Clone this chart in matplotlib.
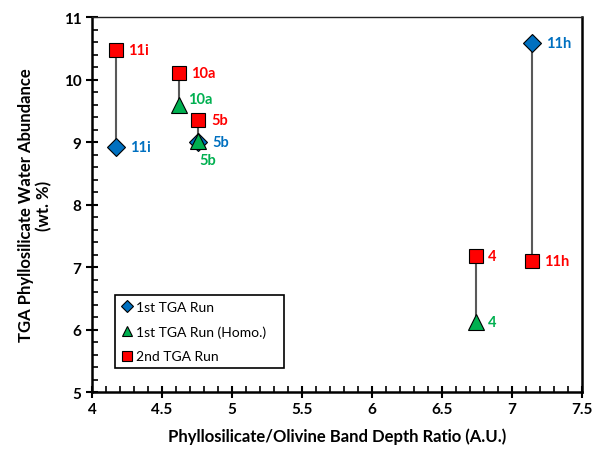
import matplotlib
matplotlib.use("Agg")
import matplotlib.pyplot as plt
from matplotlib.ticker import MultipleLocator

plt.rcParams['font.family'] = ['Lato', 'DejaVu Sans']
plt.rcParams['font.weight'] = 'bold'

# band depth ratio (x) and water abundance (y) per sample
names = ['11i', '10a', '5b', '4', '11h']
ratio = [4.17, 4.62, 4.76, 6.74, 7.14]
run1 = [8.92, None, 9.00, None, 10.58]
run1_homo = [None, 9.60, 9.02, 6.12, None]
run2 = [10.47, 10.10, 9.36, 7.17, 7.09]

blue = '#0070C0'
green = '#00B050'
red = '#FF0000'

fig, ax = plt.subplots(figsize=(5.97, 4.52), dpi=100)
fig.subplots_adjust(left=0.154, right=0.975, top=0.960, bottom=0.1305)

# vertical connectors between runs of the same sample
for i in range(len(names)):
    ys = [v[i] for v in (run1, run1_homo, run2) if v[i] is not None]
    ax.plot([ratio[i]] * len(ys), ys, color='#595959', lw=1.5, zorder=1)

def pts(vals):
    xs = [ratio[i] for i in range(len(vals)) if vals[i] is not None]
    ys = [v for v in vals if v is not None]
    return xs, ys

x1, y1 = pts(run1)
ax.plot(x1, y1, 'D', color=blue, mec='black', mew=0.8, ms=9, ls='none',
        label='1st TGA Run', zorder=3)
xh, yh = pts(run1_homo)
ax.plot(xh, yh, '^', color=green, mec='black', mew=0.8, ms=11, ls='none',
        label='1st TGA Run (Homo.)', zorder=4)
x2, y2 = pts(run2)
ax.plot(x2, y2, 's', color=red, mec='black', mew=0.8, ms=10, ls='none',
        label='2nd TGA Run', zorder=3)

lab = dict(fontsize=10.5, fontweight='bold', textcoords='offset points', va='center')
for i, n in enumerate(names):
    if run1[i] is not None:
        ax.annotate(n, (ratio[i], run1[i]), xytext=(10, 0), color=blue, **lab)
    if run2[i] is not None:
        ax.annotate(n, (ratio[i], run2[i]), xytext=(9, 0), color=red, **lab)
    if run1_homo[i] is not None:
        if n == '5b':
            ax.annotate(n, (ratio[i], run1_homo[i]), xytext=(1, -14), color=green, **lab)
        elif n == '10a':
            ax.annotate(n, (ratio[i], run1_homo[i]), xytext=(7, 4), color=green, **lab)
        else:
            ax.annotate(n, (ratio[i], run1_homo[i]), xytext=(9, 0), color=green, **lab)

ax.set_xlim(4, 7.5)
ax.set_ylim(5, 11)
ax.set_xticks([4, 4.5, 5, 5.5, 6, 6.5, 7, 7.5])
ax.set_xticklabels(['4', '4.5', '5', '5.5', '6', '6.5', '7', '7.5'])
ax.xaxis.set_minor_locator(MultipleLocator(0.1))
ax.yaxis.set_major_locator(MultipleLocator(1))
ax.yaxis.set_minor_locator(MultipleLocator(0.2))
ax.tick_params(which='major', direction='inout', length=8, width=1.5, labelsize=11)
ax.tick_params(which='minor', direction='in', length=4, width=1.2)
for t in ax.get_xticklabels() + ax.get_yticklabels():
    t.set_fontweight('bold')

ax.spines['left'].set_linewidth(1.8)
ax.spines['bottom'].set_linewidth(1.8)
ax.spines['top'].set_linewidth(1.0)
ax.spines['right'].set_linewidth(1.8)
ax.spines['top'].set_color('#222222')

ax.set_xlabel('Phyllosilicate/Olivine Band Depth Ratio (A.U.)', fontsize=12,
              fontweight='bold', labelpad=8)
ax.set_ylabel('TGA Phyllosilicate Water Abundance\n(wt. %)', fontsize=12,
              fontweight='bold', labelpad=8)

leg = ax.legend(loc='lower left', bbox_to_anchor=(0.047, 0.064, 0.345, 0.2285),
                mode='expand', fancybox=False, edgecolor='black',
                prop={'size': 10, 'weight': 'normal'},
                handletextpad=0.2, handlelength=0.9, labelspacing=0.9,
                borderaxespad=0, framealpha=1, markerscale=0.65)
leg.get_frame().set_linewidth(1.2)

fig.savefig('out.png', dpi=100)
